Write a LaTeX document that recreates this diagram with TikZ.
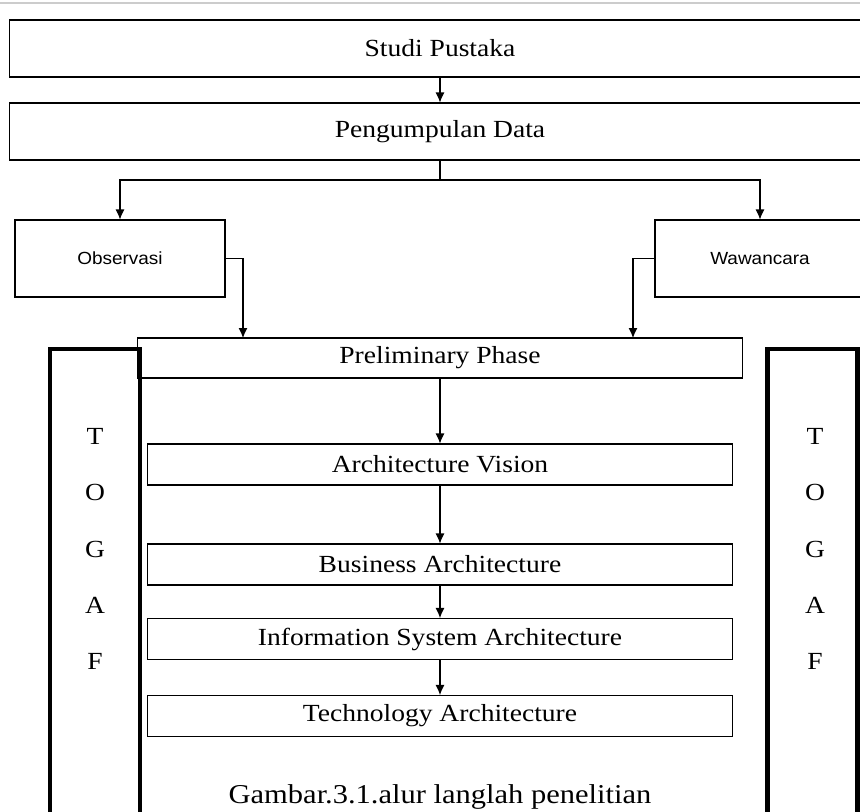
\documentclass[tikz,border=0pt]{standalone}
\usepackage{fontspec}
\setmainfont[FakeStretch=1.12]{Liberation Serif}
\newfontfamily\arialfont[FakeStretch=1.08]{Liberation Sans}
\usetikzlibrary{arrows.meta}

\tikzset{
  wide/.style={draw, minimum width=17.24cm, minimum height=1.14cm, font=\fontsize{14}{16}\selectfont},
  stage/.style={draw, minimum width=11.72cm, minimum height=0.82cm, font=\fontsize{14}{16}\selectfont},
  source/.style={draw, minimum width=4.2cm, minimum height=1.54cm, font=\arialfont\fontsize{10}{12}\selectfont},
  frame/.style={draw, line width=2.3pt, minimum width=1.8cm, minimum height=9.8cm, anchor=north},
  letters/.style={align=center, font=\fontsize{14}{32}\selectfont}
}

\begin{document}
\begin{tikzpicture}[x=0.02cm,y=-0.02cm,semithick,>={Latex[length=2mm,width=1.8mm]}]
  \useasboundingbox (0,0) rectangle (860,812);
  \draw[gray!40] (0,3) -- (860,3);
  \node[wide] (studi) at (440,48.5) {Studi Pustaka};
  \node[wide] (data) at (440,131.5) {Pengumpulan Data};
  \node[source] (obs) at (120,258.5) {Observasi};
  \node[source] (waw) at (760,258.5) {Wawancara};
  % TOGAF side frames
  \node[frame] (togafL) at (95,347) {};
  \node[frame] (togafR) at (812.5,347) {};
  \node[letters] (lettersL) at (95,549) {T\\O\\G\\A\\F};
  \node[letters] (lettersR) at (815,549) {T\\O\\G\\A\\F};
  \node[stage, minimum width=12.12cm, minimum height=0.8cm] (prelim) at (440,358) {Preliminary Phase};
  \node[stage] (vision) at (440,464.5) {Architecture Vision};
  \node[stage] (business) at (440,564.5) {Business Architecture};
  \node[stage] (infosys) at (440,639) {Information System Architecture};
  \node[stage] (tech) at (440,716) {Technology Architecture};
  \node[anchor=base, inner sep=0pt, font=\fontsize{15.5}{17}\selectfont] (caption) at (440,803) {Gambar.3.1.alur langlah penelitian};
  \coordinate (split) at (440,180);
  \coordinate (obsin) at (243,338);
  \coordinate (wawin) at (633,338);
  \draw[->] (studi) -- (data);
  \draw (data) -- (split);
  \draw[->] (split) -| (obs);
  \draw[->] (split) -| (waw);
  \draw[->] (obs) -| (obsin);
  \draw[->] (waw) -| (wawin);
  \draw[->] (prelim) -- (vision);
  \draw[->] (vision) -- (business);
  \draw[->] (business) -- (infosys);
  \draw[->] (infosys) -- (tech);
\end{tikzpicture}
\end{document}
